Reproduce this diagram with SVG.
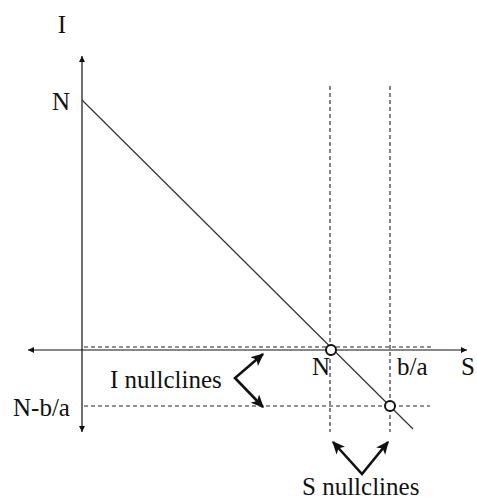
<svg xmlns="http://www.w3.org/2000/svg" width="477" height="503" viewBox="0 0 477 503">
<style>
  text { font-family: "Liberation Serif", "Times New Roman", serif; font-size: 25px; fill: #111; }
  .axis { stroke: #111; stroke-width: 1.2; fill: none; }
  .dash { stroke: #222; stroke-width: 1.1; stroke-dasharray: 4 3; fill: none; }
  .diag { stroke: #333; stroke-width: 1.2; fill: none; }
  .chev { stroke: #111; stroke-width: 2.6; fill: none; stroke-linejoin: miter; }
  .pt { fill: #fff; stroke: #111; stroke-width: 2; }
</style>
<defs>
  <marker id="ah" viewBox="0 0 10 10" refX="10" refY="5" markerWidth="8" markerHeight="6" markerUnits="userSpaceOnUse" orient="auto">
    <path d="M0,0 L10,5 L0,10 z" fill="#111"/>
  </marker>
  <marker id="bh" viewBox="0 0 10 10" refX="9" refY="5" markerWidth="13" markerHeight="13" markerUnits="userSpaceOnUse" orient="auto-start-reverse">
    <path d="M0,0.5 L10,5 L0,9.5 L2.5,5 z" fill="#111"/>
  </marker>
</defs>
<rect width="477" height="503" fill="#fff"/>
<g id="connectors">
  <line class="axis" x1="82" y1="350" x2="82" y2="56" marker-end="url(#ah)"/>
  <line class="axis" x1="82" y1="350" x2="82" y2="432" marker-end="url(#ah)"/>
  <line class="axis" x1="82" y1="350" x2="467" y2="350" marker-end="url(#ah)"/>
  <line class="axis" x1="82" y1="350" x2="28" y2="350" marker-end="url(#ah)"/>
  <line class="dash" x1="84" y1="347" x2="433" y2="347"/>
  <line class="dash" x1="84" y1="406" x2="430" y2="406"/>
  <line class="dash" x1="330" y1="86" x2="330" y2="432"/>
  <line class="dash" x1="390" y1="86" x2="390" y2="432"/>
  <line class="diag" x1="82" y1="100" x2="413" y2="429"/>
  <path class="chev" d="M263,354 L235,378 L263,407" marker-start="url(#bh)" marker-end="url(#bh)"/>
  <path class="chev" d="M333,442 L362,474 L388,442" marker-start="url(#bh)" marker-end="url(#bh)"/>
</g>
<g id="equilibrium1"><circle class="pt" cx="331" cy="350" r="5"/></g>
<g id="equilibrium2"><circle class="pt" cx="390" cy="406" r="5"/></g>
<g id="labels">
  <text x="62" y="33" text-anchor="middle">I</text>
  <text x="70" y="110" text-anchor="end">N</text>
  <text x="13" y="416">N-b/a</text>
  <text x="110" y="388">I nullclines</text>
  <text x="312" y="375">N</text>
  <text x="397" y="375">b/a</text>
  <text x="461" y="375">S</text>
  <text x="302" y="495">S nullclines</text>
</g>
</svg>
